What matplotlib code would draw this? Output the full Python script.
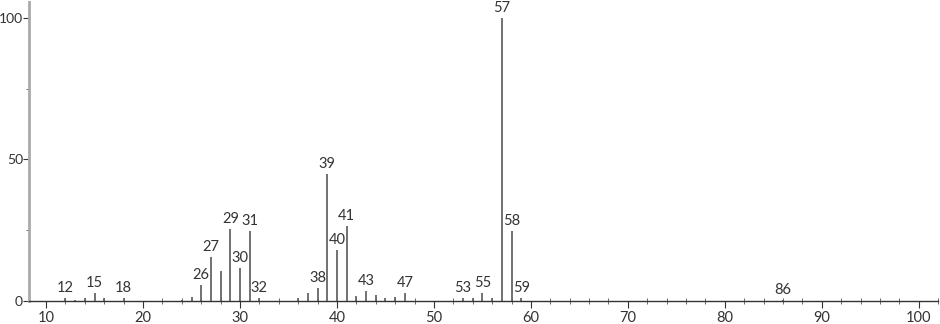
import numpy as np
import matplotlib.pyplot as plt
from matplotlib.ticker import MultipleLocator

plt.rcParams['font.family'] = ['Lato', 'DejaVu Sans']

# m/z values and relative intensities
mz = [12, 13, 14, 15, 16, 18, 24, 25, 26, 27, 28, 29, 30, 31, 32, 36, 37, 38, 39,
      40, 41, 42, 43, 44, 45, 46, 47, 53, 54, 55, 56, 57, 58, 59, 86]
inten = [1.0, 0.5, 1.0, 2.8, 1.0, 1.0, 0.5, 1.3, 5.7, 15.5, 10.6, 25.4, 11.7, 24.7, 1.0,
         1.0, 2.8, 4.6, 44.9, 18.0, 26.5, 1.8, 3.5, 2.0, 1.0, 1.5, 3.0, 1.0, 1.0, 3.0,
         1.0, 100.0, 24.7, 1.0, 0.5]
labelled = [12, 15, 18, 26, 27, 29, 30, 31, 32, 38, 39, 40, 41, 43, 47, 53, 55, 57, 58, 59, 86]

fig = plt.figure(figsize=(9.4, 3.24), dpi=100)
ax = fig.add_axes([0.031, 0.071, 0.967, 0.923])

ax.vlines(mz, 0, inten, colors='#666666', lw=1.3)
for m, h in zip(mz, inten):
    if m in labelled:
        ax.text(m, h + 1.0, str(m), ha='center', va='bottom', fontsize=10.5, color='#333333')

ax.set_xlim(8.25, 102)
ax.set_ylim(0, 105.6)

ax.spines['top'].set_visible(False)
ax.spines['right'].set_visible(False)
ax.spines['left'].set_color('#aaaaaa')
ax.spines['left'].set_linewidth(2)
ax.spines['bottom'].set_color('#333333')
ax.spines['bottom'].set_linewidth(1)

ax.xaxis.set_major_locator(MultipleLocator(10))
ax.xaxis.set_minor_locator(MultipleLocator(2))
ax.yaxis.set_major_locator(MultipleLocator(50))
ax.yaxis.set_minor_locator(MultipleLocator(25))
ax.tick_params(axis='x', which='major', direction='out', length=5, width=0.8, color='#333333',
               labelsize=10.5, labelcolor='#333333', pad=2)
ax.tick_params(axis='x', which='minor', direction='inout', length=4, width=0.6, color='#555555')
ax.tick_params(axis='y', which='major', direction='out', length=4, width=0.8, color='#333333',
               labelsize=10, labelcolor='#333333', pad=0.5)
ax.tick_params(axis='y', which='minor', direction='out', length=2, width=0.6, color='#555555')

fig.savefig('out.png', dpi=100)
